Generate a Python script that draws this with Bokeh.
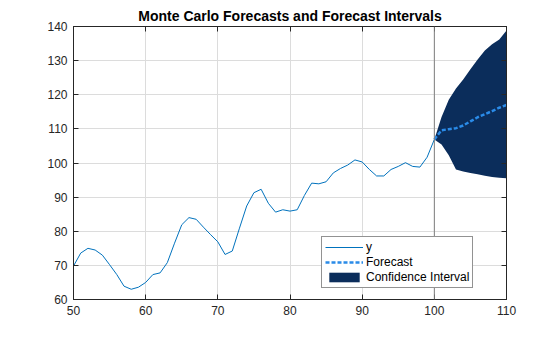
from bokeh.plotting import figure
from bokeh.models import Range1d, LinearAxis, Span, Legend, LegendItem, FixedTicker
from bokeh.embed import file_html
from bokeh.resources import INLINE

# Observed series
x_obs = list(range(50, 101))
y_obs = [69.8, 73.6, 75.0, 74.5, 73.0, 70.2, 67.3, 63.9, 63.0, 63.6,
         65.0, 67.3, 67.8, 70.8, 76.5, 81.9, 84.0, 83.5, 81.2, 79.0,
         76.9, 73.2, 74.2, 80.9, 87.4, 91.3, 92.3, 88.2, 85.6, 86.3,
         85.9, 86.3, 90.5, 94.1, 93.9, 94.5, 97.1, 98.4, 99.4, 100.9,
         100.3, 98.1, 96.2, 96.2, 98.1, 99.0, 100.1, 99.0, 98.8, 101.7,
         106.9]

# Forecast and interval
x_fc = list(range(100, 111))
y_fc = [106.9, 109.6, 109.9, 110.2, 111.0, 112.2, 113.4, 114.3, 115.2, 116.2, 117.0]
upper = [106.9, 113.5, 118.5, 121.8, 124.5, 127.5, 130.3, 133.0, 134.8, 136.2, 138.8]
lower = [106.9, 105.4, 102.3, 98.1, 97.5, 97.1, 96.7, 96.3, 95.9, 95.7, 95.5]

x_ticks = [50, 60, 70, 80, 90, 100, 110]
y_ticks = [60, 70, 80, 90, 100, 110, 120, 130, 140]

FONT = "Liberation Sans"
TXT = "#262626"

p = figure(width=560, height=337, output_backend="svg", toolbar_location=None,
           x_range=Range1d(50, 110), y_range=Range1d(60, 140),
           min_border_left=73, min_border_right=54, min_border_top=26,
           min_border_bottom=38)
p.title.text = "Monte Carlo Forecasts and Forecast Intervals"
p.title.text_font = FONT
p.title.text_font_size = "14px"
p.title.text_font_style = "bold"
p.title.text_color = "#000000"
p.title.align = "center"
p.title.standoff = 6

p.outline_line_color = TXT
p.outline_line_width = 1
p.background_fill_color = "white"
p.border_fill_color = "white"

for ax in (p.xaxis[0], p.yaxis[0]):
    ax.major_label_text_font = FONT
    ax.major_label_text_font_size = "12px"
    ax.major_label_text_color = TXT
    ax.axis_line_color = TXT
    ax.major_tick_line_color = TXT
    ax.major_tick_in = 5
    ax.major_tick_out = 0
    ax.minor_tick_line_color = None
    ax.major_label_standoff = 6
p.xaxis[0].ticker = FixedTicker(ticks=x_ticks)
p.yaxis[0].ticker = FixedTicker(ticks=y_ticks)

top_ax = LinearAxis(ticker=FixedTicker(ticks=x_ticks))
right_ax = LinearAxis(ticker=FixedTicker(ticks=y_ticks))
for ax in (top_ax, right_ax):
    ax.major_label_text_font_size = "1px"
    ax.major_label_text_color = None
    ax.major_label_standoff = 0
    ax.axis_line_color = TXT
    ax.major_tick_line_color = TXT
    ax.major_tick_in = 5
    ax.major_tick_out = 0
    ax.minor_tick_line_color = None
p.add_layout(top_ax, "above")
p.add_layout(right_ax, "right")

p.xgrid.ticker = FixedTicker(ticks=x_ticks)
p.ygrid.ticker = FixedTicker(ticks=y_ticks)
p.grid.grid_line_color = "#dcdcdc"
p.grid.grid_line_width = 1

r_ci = p.varea(x=x_fc, y1=lower, y2=upper, fill_color="#0B2D5B", fill_alpha=1.0)
r_y = p.line(x_obs, y_obs, line_color="#0072BD", line_width=1)
r_fc = p.line(x_fc, y_fc, line_color="#2A8BE8", line_width=2.5, line_dash="4 2")

p.add_layout(Span(location=100, dimension="height", line_color="#808080", line_width=1))

legend = Legend(items=[LegendItem(label="y", renderers=[r_y]),
                       LegendItem(label="Forecast", renderers=[r_fc]),
                       LegendItem(label="Confidence Interval", renderers=[r_ci])],
                location=(248, 11))
legend.label_text_font = FONT
legend.label_text_font_size = "12px"
legend.label_text_color = "#000000"
legend.border_line_color = TXT
legend.border_line_width = 1
legend.background_fill_alpha = 1.0
legend.glyph_width = 38
legend.glyph_height = 12
legend.label_height = 12
legend.spacing = 1
legend.padding = 3
legend.margin = 0
legend.label_standoff = 3
p.add_layout(legend, "center")

open("out.html", "w").write(file_html(p, INLINE))
